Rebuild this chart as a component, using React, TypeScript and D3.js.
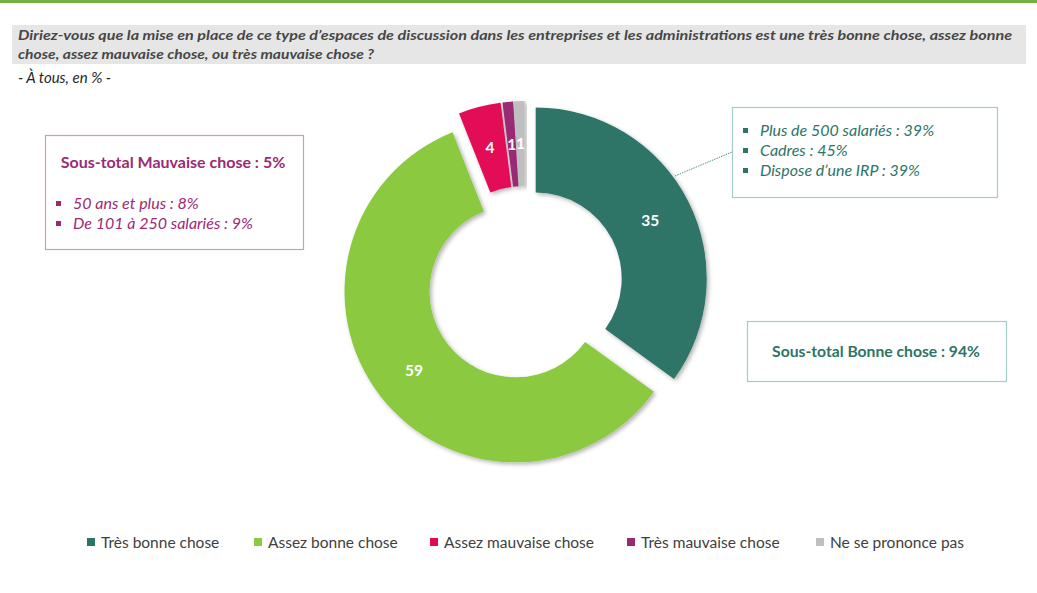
import React, { useEffect, useRef } from "react";
import * as d3 from "d3";

const categories = [
  "Très bonne chose",
  "Assez bonne chose",
  "Assez mauvaise chose",
  "Très mauvaise chose",
  "Ne se prononce pas",
];
const values = [35, 59, 4, 1, 1];
const colors = ["#2d7468", "#8bc941", "#e20a57", "#9b2a74", "#bfbfbf"];

const titleLines = [
  "Diriez-vous que la mise en place de ce type d’espaces de discussion dans les entreprises et les administrations est une très bonne chose, assez bonne",
  "chose, assez mauvaise chose, ou très mauvaise chose ?",
];
const subtitle = "- À tous, en % -";

const badTitle = "Sous-total Mauvaise chose : 5%";
const badItems = ["50 ans et plus : 8%", "De 101 à 250 salariés : 9%"];
const goodItems = ["Plus de 500 salariés : 39%", "Cadres : 45%", "Dispose d’une IRP : 39%"];
const goodTitle = "Sous-total Bonne chose : 94%";

const legendX = [87, 254, 430, 627, 816];

const FONT = "Lato, 'Open Sans', sans-serif";

export default function App() {
  const ref = useRef<SVGSVGElement>(null);

  useEffect(() => {
    const svg = d3.select(ref.current);
    svg.selectAll("*").remove();

    const defs = svg.append("defs");
    const f = defs.append("filter").attr("id", "shadow").attr("x", "-20%").attr("y", "-20%").attr("width", "140%").attr("height", "140%");
    f.append("feDropShadow")
      .attr("dx", 2)
      .attr("dy", 2)
      .attr("stdDeviation", 2)
      .attr("flood-color", "#000")
      .attr("flood-opacity", 0.3);

    // top rule and title band
    svg.append("rect").attr("x", 0).attr("y", 0).attr("width", 1037).attr("height", 3).attr("fill", "#74b043");
    svg.append("rect").attr("x", 12).attr("y", 25).attr("width", 1014).attr("height", 39).attr("fill", "#e6e6e6");

    const tWidths = [994, 356];
    titleLines.forEach((t, i) => {
      svg
        .append("text")
        .attr("x", 18)
        .attr("y", 40 + i * 19)
        .attr("textLength", tWidths[i])
        .attr("lengthAdjust", "spacingAndGlyphs")
        .attr("font-family", FONT)
        .attr("font-size", 13.5)
        .attr("font-style", "italic")
        .attr("font-weight", 700)
        .attr("fill", "#474747")
        .text(t);
    });
    svg
      .append("text")
      .attr("x", 18)
      .attr("y", 83)
      .attr("font-family", FONT)
      .attr("font-size", 15)
      .attr("font-style", "italic")
      .attr("fill", "#262626")
      .text(subtitle);

    // donut
    const cx = 525,
      cy = 284,
      rIn = 86,
      rOut = 171,
      explode = 12;
    const pie = d3.pie<number>().sort(null).value((d) => d);
    const arcs = pie(values);
    const arc = d3.arc<d3.PieArcDatum<number>>().innerRadius(rIn).outerRadius(rOut);

    const g = svg.append("g").attr("transform", `translate(${cx},${cy})`);
    const slice = g
      .selectAll("g.slice")
      .data(arcs)
      .enter()
      .append("g")
      .attr("class", "slice")
      .attr("transform", (d) => {
        const m = (d.startAngle + d.endAngle) / 2;
        return `translate(${Math.sin(m) * explode},${-Math.cos(m) * explode})`;
      });
    slice
      .append("path")
      .attr("d", arc)
      .attr("fill", (_, i) => colors[i])
      .attr("filter", "url(#shadow)");
    slice
      .append("text")
      .attr("transform", (d) => `translate(${arc.centroid(d)})`)
      .attr("text-anchor", "middle")
      .attr("dy", "0.35em")
      .attr("font-family", FONT)
      .attr("font-size", 15.5)
      .attr("font-weight", 700)
      .attr("fill", "#fff")
      .text((d) => d.data);

    // left box (bad)
    svg.append("rect").attr("x", 45.5).attr("y", 135.5).attr("width", 258).attr("height", 114).attr("fill", "#fff").attr("stroke", "#cc9bc4").attr("stroke-width", 1.2);
    svg
      .append("text")
      .attr("x", 173)
      .attr("y", 168)
      .attr("text-anchor", "middle")
      .attr("font-family", FONT)
      .attr("font-size", 16)
      .attr("font-weight", 700)
      .attr("fill", "#9b2a74")
      .text(badTitle);
    badItems.forEach((t, i) => {
      const y = 204 + i * 20;
      svg.append("rect").attr("x", 56).attr("y", y - 3).attr("width", 5).attr("height", 5).attr("fill", "#9b2a74");
      svg
        .append("text")
        .attr("x", 73)
        .attr("y", y + 5)
        .attr("font-family", FONT)
        .attr("font-size", 16)
        .attr("font-style", "italic")
        .attr("fill", "#9b2a74")
        .text(t);
    });

    // connector and top right box
    svg
      .append("line")
      .attr("x1", 675)
      .attr("y1", 176)
      .attr("x2", 732)
      .attr("y2", 152)
      .attr("stroke", "#4a9488")
      .attr("stroke-width", 1)
      .attr("stroke-dasharray", "1.5,1");
    svg.append("rect").attr("x", 732.5).attr("y", 107.5).attr("width", 265).attr("height", 90).attr("fill", "#fff").attr("stroke", "#a6ccc7").attr("stroke-width", 1.2);
    goodItems.forEach((t, i) => {
      const y = 131 + i * 20;
      svg.append("rect").attr("x", 743).attr("y", y - 3).attr("width", 5).attr("height", 5).attr("fill", "#2d7468");
      svg
        .append("text")
        .attr("x", 760)
        .attr("y", y + 5)
        .attr("font-family", FONT)
        .attr("font-size", 16)
        .attr("font-style", "italic")
        .attr("fill", "#2d7468")
        .text(t);
    });

    // bottom right box
    svg.append("rect").attr("x", 747.5).attr("y", 321.5).attr("width", 259).attr("height", 60).attr("fill", "#fff").attr("stroke", "#a6ccc7").attr("stroke-width", 1.2);
    svg
      .append("text")
      .attr("x", 876)
      .attr("y", 357)
      .attr("text-anchor", "middle")
      .attr("font-family", FONT)
      .attr("font-size", 15.7)
      .attr("font-weight", 700)
      .attr("fill", "#2d7468")
      .text(goodTitle);

    // legend
    const lg = svg.append("g");
    categories.forEach((c, i) => {
      lg.append("rect").attr("x", legendX[i]).attr("y", 538).attr("width", 8).attr("height", 8).attr("fill", colors[i]);
      lg.append("text")
        .attr("x", legendX[i] + 14)
        .attr("y", 547.5)
        .attr("font-family", FONT)
        .attr("font-size", 15.5)
        .attr("fill", "#404040")
        .text(c);
    });
  }, []);

  return (
    <div style={{ position: "absolute", left: 0, top: 0 }}>
      <svg ref={ref} width={1037} height={593} style={{ display: "block", background: "#fff" }} />
    </div>
  );
}
